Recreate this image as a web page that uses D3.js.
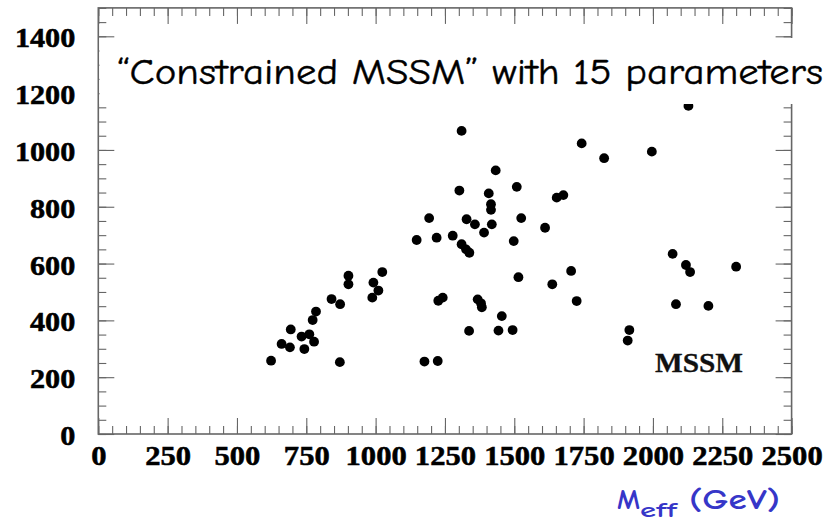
<!DOCTYPE html>
<html>
<head>
<meta charset="utf-8">
<script src="https://cdn.jsdelivr.net/npm/d3@7"></script>
<style>
  html, body { margin: 0; padding: 0; background: #fff; }
  svg { display: block; }
</style>
</head>
<body>
<svg id="chart" width="832" height="521"></svg>
<script>
// ---- data ----
const meff = [623, 661, 691, 694, 733, 761, 778, 743, 773, 785, 841, 872, 871, 902, 902, 1024, 992, 1010, 988,
  1148, 1176, 1224, 1193, 1220, 1226, 1242, 1278, 1302, 1310, 1310, 1326, 1338, 1328, 1358, 1337, 1368, 1380, 1383,
  1391, 1408, 1416, 1416, 1419, 1433, 1443, 1455, 1494, 1498, 1509, 1515, 1525, 1611, 1637, 1653, 1677, 1705, 1725,
  1743, 1824, 1909, 1915, 1996, 2071, 2083, 2119, 2134, 2128, 2200, 2300];
const mass = [258, 317, 305, 368, 343, 351, 325, 299, 401, 431, 475, 457, 253, 557, 527, 570, 533, 505, 480,
  683, 255, 257, 760, 691, 469, 480, 698, 857, 1067, 668, 650, 638, 756, 738, 363, 474, 460, 446,
  709, 847, 809, 789, 738, 928, 364, 415, 366, 679, 870, 552, 760, 726, 527, 832, 841, 574, 468,
  1023, 971, 329, 366, 994, 634, 457, 595, 570, 1155, 451, 589];
const xMajorTicks = [0, 250, 500, 750, 1000, 1250, 1500, 1750, 2000, 2250, 2500];
const yMajorTicks = [0, 200, 400, 600, 800, 1000, 1200, 1400];
const titleText = "\u201CConstrained MSSM\u201D with 15 parameters";
const modelLabel = "MSSM";

// ---- layout ----
const svg = d3.select("#chart");
const x = d3.scaleLinear().domain([0, 2500]).range([98.3, 791.6]);
const y = d3.scaleLinear().domain([0, 1500]).range([434, 7.9]);
const xMinor = d3.range(0, 2501, 50);
const yMinor = d3.range(0, 1501, 50);
const axisColor = "#666";

function styleAxis(g) {
  g.select(".domain").remove();
  g.selectAll(".tick line").attr("stroke", axisColor).attr("stroke-width", 1.1);
}
const serif = "'Liberation Serif', 'Times New Roman', serif";

// bottom
svg.append("g").attr("transform", `translate(0,${y(0)})`)
  .call(d3.axisBottom(x).tickValues(xMinor).tickSize(-8).tickFormat("")).call(styleAxis);
const bottom = svg.append("g").attr("transform", `translate(0,${y(0)})`)
  .call(d3.axisBottom(x).tickValues(xMajorTicks).tickSize(-16).tickFormat(d3.format("d"))).call(styleAxis);
bottom.selectAll(".tick text")
  .attr("y", 31).attr("dy", 0)
  .attr("fill", "#000").attr("stroke", "#000").attr("stroke-width", 0.5)
  .style("font-family", serif)
  .style("font-weight", "bold").style("font-size", "26.5px")
  .attr("textLength", function() { return this.textContent.length * 15.3; })
  .attr("lengthAdjust", "spacingAndGlyphs");

// top
svg.append("g").attr("transform", `translate(0,${y(1500)})`)
  .call(d3.axisTop(x).tickValues(xMinor).tickSize(-8).tickFormat("")).call(styleAxis);
svg.append("g").attr("transform", `translate(0,${y(1500)})`)
  .call(d3.axisTop(x).tickValues(xMajorTicks).tickSize(-16).tickFormat("")).call(styleAxis);

// left
svg.append("g").attr("transform", `translate(${x(0)},0)`)
  .call(d3.axisLeft(y).tickValues(yMinor).tickSize(-8).tickFormat("")).call(styleAxis);
const left = svg.append("g").attr("transform", `translate(${x(0)},0)`)
  .call(d3.axisLeft(y).tickValues(yMajorTicks).tickSize(-16).tickFormat(d3.format("d"))).call(styleAxis);
left.selectAll(".tick text")
  .attr("x", -23).attr("dy", 10.5)
  .attr("fill", "#000").attr("stroke", "#000").attr("stroke-width", 0.5)
  .style("font-family", serif)
  .style("font-weight", "bold").style("font-size", "26.5px")
  .attr("textLength", function() { return this.textContent.length * 15.1; })
  .attr("lengthAdjust", "spacingAndGlyphs");

// right
svg.append("g").attr("transform", `translate(${x(2500)},0)`)
  .call(d3.axisRight(y).tickValues(yMinor).tickSize(-8).tickFormat("")).call(styleAxis);
svg.append("g").attr("transform", `translate(${x(2500)},0)`)
  .call(d3.axisRight(y).tickValues(yMajorTicks).tickSize(-16).tickFormat("")).call(styleAxis);

// frame
svg.append("rect")
  .attr("x", x(0)).attr("y", y(1500))
  .attr("width", x(2500) - x(0)).attr("height", y(0) - y(1500))
  .attr("fill", "none").attr("stroke", axisColor).attr("stroke-width", 1.6);

// points
const pts = meff.map((d, i) => ({ mx: d, my: mass[i] }));
svg.append("g").selectAll("circle").data(pts).join("circle")
  .attr("cx", d => x(d.mx)).attr("cy", d => y(d.my))
  .attr("r", 4.9).attr("fill", "#000");

// MSSM label
svg.append("text")
  .attr("x", 655).attr("y", 372)
  .attr("textLength", 88).attr("lengthAdjust", "spacingAndGlyphs")
  .style("font-family", serif)
  .style("font-weight", "bold").style("font-size", "27px")
  .attr("fill", "#111").attr("stroke", "#111").attr("stroke-width", 0.3)
  .text(modelLabel);

// title box
svg.append("rect")
  .attr("x", x(0) + 1.2).attr("y", 38)
  .attr("width", 832 - x(0)).attr("height", 66)
  .attr("fill", "#fff");
svg.append("text")
  .attr("x", 117).attr("y", 84)
  .attr("textLength", 706).attr("lengthAdjust", "spacingAndGlyphs")
  .style("font-family", "'Comic Sans MS', 'Comic Neue', 'DejaVu Sans', sans-serif")
  .style("font-size", "37px")
  .attr("fill", "#000").attr("stroke", "#000").attr("stroke-width", 0.4)
  .text(titleText);

// x-axis title
const blue = "#3636c8";
const cfont = "'Comic Sans MS', 'Comic Neue', 'DejaVu Sans', sans-serif";
svg.append("text")
  .attr("x", 617).attr("y", 509)
  .attr("textLength", 23).attr("lengthAdjust", "spacingAndGlyphs")
  .style("font-family", cfont).style("font-weight", "bold").style("font-size", "29px")
  .attr("fill", blue).text("M");
svg.append("text")
  .attr("x", 640).attr("y", 517)
  .attr("textLength", 37).attr("lengthAdjust", "spacingAndGlyphs")
  .style("font-family", cfont).style("font-weight", "bold").style("font-size", "20px")
  .attr("fill", blue).text("eff");
svg.append("text")
  .attr("x", 689).attr("y", 509)
  .attr("textLength", 91).attr("lengthAdjust", "spacingAndGlyphs")
  .style("font-family", cfont).style("font-weight", "bold").style("font-size", "28px")
  .attr("fill", blue).text("(GeV)");
</script>
</body>
</html>
